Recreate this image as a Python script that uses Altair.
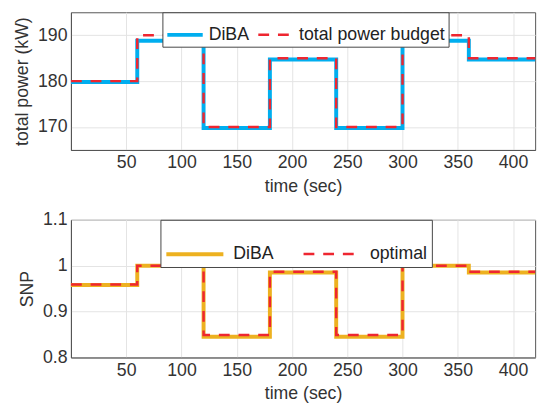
import altair as alt
import pandas as pd

# time breakpoints (sec)
t_edges = [0, 60, 120, 180, 240, 300, 360, 420]

# top panel: total power (kW) per interval
power_budget = [180, 190, 170, 185, 170, 190, 185]
power_diba = [179.8, 188.8, 169.8, 184.7, 169.8, 188.8, 184.7]

# bottom panel: SNP per interval
snp_optimal = [0.959, 1.0, 0.849, 0.987, 0.849, 1.0, 0.987]
snp_diba = [0.958, 1.0, 0.845, 0.985, 0.845, 1.0, 0.985]

x_ticks = [50, 100, 150, 200, 250, 300, 350, 400]
top_y_ticks = [170, 180, 190]
bot_y_ticks = [0.8, 0.9, 1.0, 1.1]

BLUE = "#00AEEF"
RED = "#EE2630"
ORANGE = "#EDB120"
FONT = "Liberation Sans"
TXT = "#333333"


def step_rows(series, values, field):
    vals = list(values) + [values[-1]]
    return [{"time": t, field: v, "series": series} for t, v in zip(t_edges, vals)]


df_top = pd.DataFrame(step_rows("DiBA", power_diba, "value") +
                      step_rows("total power budget", power_budget, "value"))
df_bot = pd.DataFrame(step_rows("DiBA", snp_diba, "value") +
                      step_rows("optimal", snp_optimal, "value"))


def panel(df, names, colors, ytitle, ydomain, yticks, yformat, h, legend_kw):
    leg = alt.Legend(title=None, orient="none", direction="horizontal",
                     symbolType="stroke", labelFontSize=18, labelFont=FONT,
                     labelColor="#222222", strokeColor="#444444",
                     fillColor="white", **legend_kw)
    return alt.Chart(df).mark_line(interpolate="step-after", strokeCap="butt",
                                   strokeJoin="miter").encode(
        x=alt.X("time:Q", scale=alt.Scale(domain=[0, 420], nice=False),
                axis=alt.Axis(values=x_ticks, title="time (sec)")),
        y=alt.Y("value:Q", scale=alt.Scale(domain=ydomain, nice=False, zero=False),
                axis=alt.Axis(values=yticks, title=ytitle, format=yformat)),
        color=alt.Color("series:N", scale=alt.Scale(domain=names, range=colors), legend=leg),
        strokeDash=alt.StrokeDash("series:N", scale=alt.Scale(domain=names, range=[[1, 0], [11, 9]]), legend=leg),
        strokeWidth=alt.StrokeWidth("series:N", scale=alt.Scale(domain=names, range=[4, 2.5]), legend=leg),
    ).properties(width=472, height=h)


top = panel(df_top, ["DiBA", "total power budget"], [BLUE, RED],
            "total power (kW)", [165, 195], top_y_ticks, "d", 140,
            dict(legendX=93, legendY=0, symbolSize=1296, padding=3,
                 labelOffset=4, columnPadding=3))

bot = panel(df_bot, ["DiBA", "optimal"], [ORANGE, RED],
            "SNP", [0.8, 1.1], bot_y_ticks, "~g", 140,
            dict(legendX=91, legendY=0, symbolSize=3364, padding=4,
                 labelOffset=8, columnPadding=24))

chart = alt.vconcat(top, bot, spacing=14).resolve_scale(
    color="independent", strokeDash="independent", strokeWidth="independent"
).resolve_legend(
    color="independent", strokeDash="independent", strokeWidth="independent"
).properties(
    padding={"left": 5, "top": 0, "right": 0, "bottom": 0}
).configure_axis(
    labelFont=FONT, labelFontSize=18, labelColor=TXT, labelPadding=4,
    titleFont=FONT, titleFontSize=18, titleFontWeight="normal", titleColor=TXT,
    titlePadding=6, ticks=False, grid=True, gridColor="#E3E3E3", gridWidth=1,
    domainColor="#555555", domainWidth=1,
).configure_view(stroke="#555555", strokeWidth=1)

chart.save("out.html", embed_options={"renderer": "svg", "actions": False})
